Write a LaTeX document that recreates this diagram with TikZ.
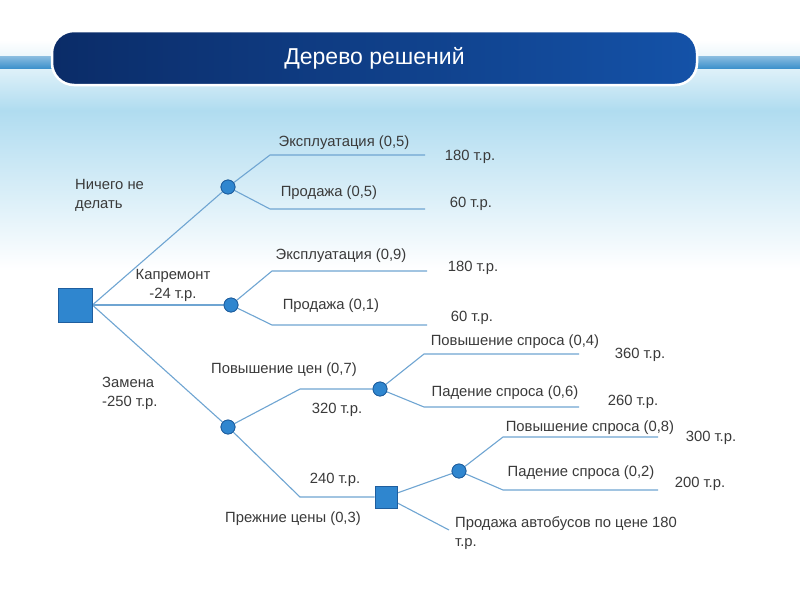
\documentclass[tikz,border=0pt]{standalone}
\usepackage{fontspec}
\setmainfont{Liberation Sans}
\begin{document}
\begin{tikzpicture}[x=1pt,y=-1pt,
  ln/.style={draw=lnc,line width=1.1pt},
  chance/.style={circle,fill=nodec,draw=nodeb,line width=0.8pt,minimum size=14pt,inner sep=0pt},
  decis/.style={rectangle,fill=nodec,draw=nodeb,line width=0.8pt,inner sep=0pt},
  lab/.style={font=\fontsize{14.8}{19}\selectfont,text=txt,inner sep=0pt},
  labl/.style={lab,align=left,anchor=west}]
\definecolor{lnc}{HTML}{6FA5D2}
\definecolor{nodec}{HTML}{2F86CF}
\definecolor{nodeb}{HTML}{1F5E9E}
\definecolor{txt}{HTML}{3A3A3A}
\definecolor{sky}{HTML}{B0DCF0}
\definecolor{navyA}{HTML}{0B2C68}
\definecolor{navyB}{HTML}{1452A8}
\definecolor{strp}{HTML}{3F92CC}
\useasboundingbox (0,0) rectangle (800,600);
\fill[white] (0,0) rectangle (800,600);
\shade[top color=white,bottom color=sky] (0,40) rectangle (800,110);
\shade[top color=sky,bottom color=white] (0,110) rectangle (800,270);
\shade[top color=strp!60!white,bottom color=strp] (0,56) rectangle (800,68);
\node[draw=white,line width=2.5pt,rounded corners=22pt,left color=navyA,right color=navyB,
  minimum width=645pt,minimum height=54pt,inner sep=0pt] (hdr) at (374.5,58) {};
\node[font=\fontsize{23}{27}\selectfont,text=white] (title) at (hdr.center) {Дерево решений};
% nodes
\node[decis,minimum size=34pt] (r) at (75,305) {};
\node[chance] (c1) at (228,187) {};
\node[chance] (c2) at (231,305) {};
\node[chance] (c3) at (228,427) {};
\node[chance] (c4) at (380,389) {};
\node[decis,minimum size=22pt] (s2) at (386,497) {};
\node[chance] (c5) at (459,471) {};
\coordinate (e1a) at (270,155); \coordinate (e1b) at (425,155);
\coordinate (e2a) at (270,209); \coordinate (e2b) at (425,209);
\coordinate (e3a) at (272,271); \coordinate (e3b) at (427,271);
\coordinate (e4a) at (272,325); \coordinate (e4b) at (427,325);
\coordinate (p1) at (300,389); \coordinate (p2) at (300,497);
\coordinate (e5a) at (424,354); \coordinate (e5b) at (579,354);
\coordinate (e6a) at (424,407); \coordinate (e6b) at (579,407);
\coordinate (e7a) at (503,437); \coordinate (e7b) at (658,437);
\coordinate (e8a) at (503,490); \coordinate (e8b) at (658,490);
\coordinate (e9) at (449,530);
\draw[ln] (r.east) -- (c1); \draw[ln] (r.east) -- (c2); \draw[ln] (r.east) -- (c3);
\draw[ln] (c1) -- (e1a) -- (e1b); \draw[ln] (c1) -- (e2a) -- (e2b);
\draw[ln] (c2) -- (e3a) -- (e3b); \draw[ln] (c2) -- (e4a) -- (e4b);
\draw[ln] (c3) -- (p1) -- (c4); \draw[ln] (c3) -- (p2) -- (s2);
\draw[ln] (c4) -- (e5a) -- (e5b); \draw[ln] (c4) -- (e6a) -- (e6b);
\draw[ln] (s2) -- (c5); \draw[ln] (s2) -- (e9);
\draw[ln] (c5) -- (e7a) -- (e7b); \draw[ln] (c5) -- (e8a) -- (e8b);
\node[chance] at (c1) {}; \node[chance] at (c2) {}; \node[chance] at (c3) {};
\node[chance] at (c4) {}; \node[chance] at (c5) {};
\node[decis,minimum size=34pt] at (r) {}; \node[decis,minimum size=22pt] at (s2) {};
% labels
\node[lab] (l1) at (344,143) {Эксплуатация (0,5)};
\node[lab] (v1) at (470,157) {180 т.р.};
\node[labl] (l0) at (75,195) {Ничего не\\делать};
\node[lab] (l2) at (329,193) {Продажа (0,5)};
\node[lab] (v2) at (471,204) {60 т.р.};
\node[lab] (l3) at (341,256) {Эксплуатация (0,9)};
\node[lab] (v3) at (473,268) {180 т.р.};
\node[lab,align=center] (lk) at (173,285) {Капремонт\\-24 т.р.};
\node[lab] (l4) at (331,306) {Продажа (0,1)};
\node[lab] (v4) at (472,318) {60 т.р.};
\node[lab] (l5) at (515,342) {Повышение спроса (0,4)};
\node[lab] (v5) at (640,355) {360 т.р.};
\node[labl] (lz) at (102,393) {Замена\\-250 т.р.};
\node[lab] (l6) at (284,370) {Повышение цен (0,7)};
\node[lab] (l7) at (505,393) {Падение спроса (0,6)};
\node[lab] (v6) at (633,402) {260 т.р.};
\node[lab] (v7) at (337,410) {320 т.р.};
\node[lab] (l8) at (590,428) {Повышение спроса (0,8)};
\node[lab] (v8) at (711,438) {300 т.р.};
\node[lab] (l9) at (581,473) {Падение спроса (0,2)};
\node[lab] (v9) at (700,484) {200 т.р.};
\node[lab] (v10) at (335,480) {240 т.р.};
\node[lab] (l10) at (293,519) {Прежние цены (0,3)};
\node[labl] (l11) at (455,533) {Продажа автобусов по цене 180\\т.р.};
\end{tikzpicture}
\end{document}
